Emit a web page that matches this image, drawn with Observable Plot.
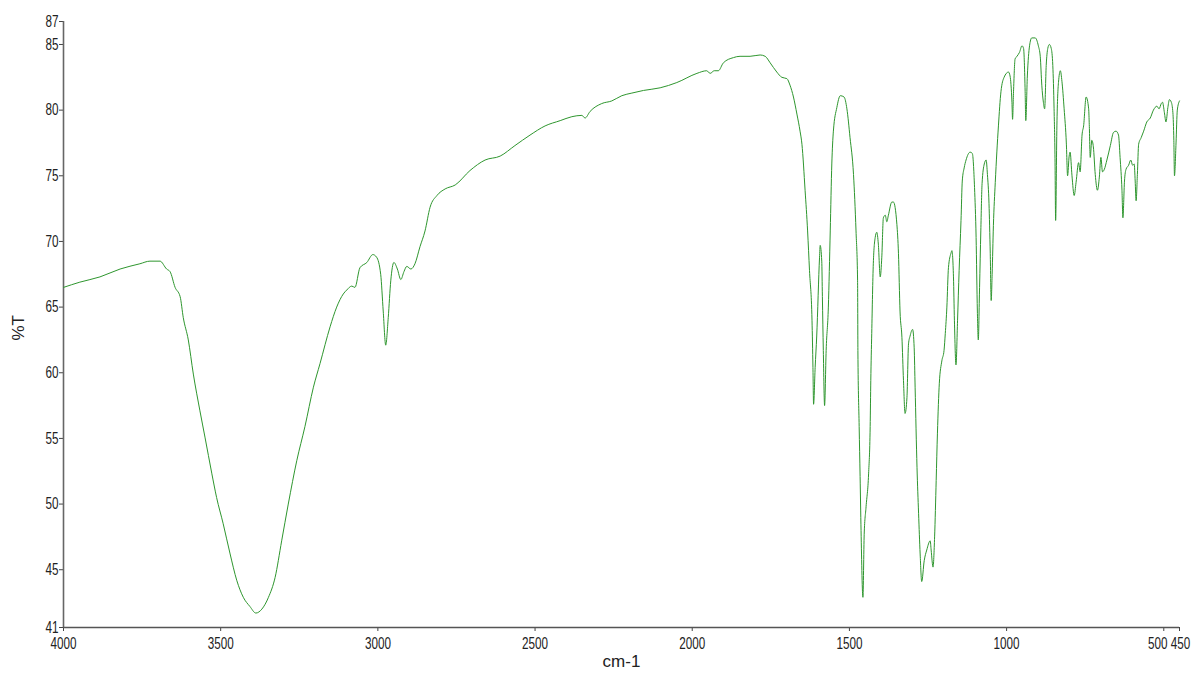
<!DOCTYPE html>
<html>
<head>
<meta charset="utf-8">
<script src="https://cdn.jsdelivr.net/npm/d3@7"></script>
<script src="https://cdn.jsdelivr.net/npm/@observablehq/plot@0.6"></script>
<style>
  html, body { margin: 0; padding: 0; background: #fff; }
</style>
</head>
<body>
<div id="chart"></div>
<script>
// IR spectrum: wavenumber (cm-1) vs transmittance (%T)
const wavenumber = [
  4000,3948,3884,3820,3757,3725,3693,3672,3661,3645,3629,3619,3603,3587,3566,3550,3528,3513,3492,3470,
  3449,3428,3407,3388,3369,3348,3327,3306,3285,3258,3232,3205,3184,3152,3131,3110,3099,3083,3073,3057,
  3035,3016,3004,2991,2983,2975,2967,2959,2949,2938,2927,2917,2908,2895,2882,2866,2850,2834,2812,2786,
  2754,2707,2659,2611,2564,2516,2468,2420,2383,2351,2341,2325,2288,2256,2224,2192,2155,2102,2049,1985,
  1954,1943,1930,1917,1901,1869,1848,1816,1784,1768,1752,1731,1715,1699,1689,1678,1667,1657,1651,1641,
  1633,1627,1619,1616,1614,1609,1604,1595,1593,1588,1586,1583,1579,1574,1567,1561,1556,1551,1540,1529,
  1517,1508,1498,1487,1479,1474,1473,1469,1466,1463,1457,1453,1447,1439,1434,1432,1429,1424,1418,1413,
  1408,1402,1397,1392,1386,1381,1376,1365,1360,1349,1344,1339,1333,1328,1323,1317,1312,1307,1299,1294,
  1291,1285,1280,1275,1270,1262,1254,1243,1240,1234,1229,1224,1220,1214,1206,1199,1195,1190,1185,1177,
  1174,1169,1166,1161,1156,1151,1145,1141,1135,1129,1116,1109,1102,1097,1093,1090,1086,1082,1078,1071,
  1065,1061,1056,1052,1049,1046,1042,1036,1026,1018,1008,994,989,983,981,978,973,967,959,951,
  946,941,939,934,927,920,909,899,893,888,883,879,874,869,864,858,853,849,846,844,
  840,835,829,824,817,810,806,801,798,792,785,779,771,766,760,755,747,739,737,734,
  729,724,718,711,705,700,695,689,681,670,660,652,644,639,633,630,625,620,612,605,
  599,594,591,588,584,580,572,564,554,543,533,522,515,508,504,498,493,487,482,476,
  471,468,466,461,457,450
];
const transmittance = [
  66.5,66.9,67.3,67.9,68.3,68.5,68.5,67.9,67.7,66.5,65.8,64.2,62.5,59.9,57.1,55.1,52.3,50.5,48.5,46.2,
  44.2,42.9,42.2,41.7,42.0,42.9,44.4,47.2,50.0,53.3,55.9,58.9,60.7,63.5,65.0,66.0,66.3,66.6,66.5,68.0,
  68.4,69.0,68.8,67.5,64.7,62.1,64.2,67.0,68.4,67.9,67.1,67.7,68.1,67.9,68.3,69.6,70.8,72.6,73.5,74.0,
  74.3,75.4,76.2,76.5,77.3,78.1,78.8,79.2,79.5,79.6,79.4,79.9,80.5,80.7,81.1,81.3,81.5,81.7,82.1,82.8,
  83.0,82.8,83.0,83.0,83.6,84.0,84.1,84.1,84.2,84.1,83.6,82.9,82.5,82.4,81.9,81.0,79.7,78.4,77.4,73.9,
  70.8,67.8,64.0,60.4,57.6,60.4,62.8,68.8,69.7,68.5,65.8,61.7,57.5,61.7,65.0,70.8,75.9,78.4,80.2,81.1,
  81.0,80.1,77.9,75.1,70.8,67.0,61.7,55.9,52.1,48.0,42.9,47.7,49.8,52.3,55.9,59.4,63.0,68.3,70.3,70.7,
  69.8,67.3,68.8,71.8,72.0,71.5,72.0,73.0,73.0,71.3,69.1,64.7,62.7,59.4,56.9,58.1,62.2,62.8,63.3,61.9,
  58.9,52.8,49.3,46.2,44.1,45.7,46.5,47.2,46.5,45.2,47.5,51.8,55.4,59.2,60.9,61.7,63.0,65.0,68.0,69.1,
  69.3,67.3,64.0,60.6,64.0,67.8,71.6,74.6,75.6,76.2,76.8,76.7,74.1,70.3,64.7,62.5,66.5,70.8,74.4,75.9,
  76.2,75.1,72.9,69.1,65.5,67.5,71.2,74.5,78.8,81.4,82.5,82.9,82.6,80.6,79.3,81.4,83.9,84.1,84.4,84.9,
  84.7,81.4,79.2,82.6,84.9,85.5,85.5,84.9,84.1,81.9,80.6,80.1,83.4,84.7,85.0,84.7,83.4,80.1,76.3,71.6,
  78.8,82.1,83.0,82.2,80.1,77.5,75.0,76.5,76.8,75.0,73.5,74.5,76.0,75.3,78.1,78.8,81.0,80.1,78.9,76.4,
  77.7,77.2,75.1,73.9,74.9,76.4,75.3,75.5,76.2,77.3,78.3,78.4,78.1,76.4,73.9,71.8,74.6,75.5,75.8,76.2,
  75.8,75.9,74.6,73.1,75.1,77.4,77.9,78.4,79.1,79.4,80.0,80.3,80.1,80.5,80.6,79.8,79.1,80.2,80.8,80.6,
  79.8,77.7,75.0,77.5,80.0,80.7
];
const xTickValues = [4000, 3500, 3000, 2500, 2000, 1500, 1000, 500, 450];
const yDomain = [40.6, 86.75];
const yTickValues = [40.6, 45, 50, 55, 60, 65, 70, 75, 80, 85, 86.75];
const xLabel = "cm-1";
const yLabel = "%T";

const data = wavenumber.map((w, i) => ({w, t: transmittance[i]}));

const chart = Plot.plot({
  width: 1191,
  height: 673,
  marginLeft: 63,
  marginRight: 12,
  marginTop: 21,
  marginBottom: 46,
  style: {fontFamily: "'Liberation Sans', Arial, sans-serif", fontSize: "16px", color: "#222", background: "#fff"},
  x: {domain: [4000, 450]},
  y: {domain: yDomain},
  marks: [
    Plot.axisX({ticks: xTickValues, tickSize: 4, tickPadding: 6, tickFormat: d => String(d), label: null, stroke: "#444"}),
    Plot.axisY({ticks: yTickValues, tickSize: 4, tickPadding: 1, tickFormat: d3.format(".0f"), label: null, stroke: "#444"}),
    Plot.ruleX([xTickValues[0]], {stroke: "#666", strokeWidth: 1.6}),
    Plot.ruleY([yDomain[0]], {stroke: "#555", strokeWidth: 1.6}),
    Plot.line(data, {x: "w", y: "t", stroke: "#2e962e", strokeWidth: 1, curve: "monotone-x"}),
    Plot.text([xLabel], {text: d => d, frameAnchor: "bottom", dy: 39, fontSize: 17, fill: "#222"}),
    Plot.text([yLabel], {text: d => d, frameAnchor: "left", dx: -45, dy: 16, rotate: -90, fontSize: 17, fill: "#222"})
  ]
});

document.getElementById("chart").append(chart);

// condensed tick labels, as in the reference
chart.querySelectorAll('g[aria-label*="tick label"] text').forEach(t => {
  const L = t.getComputedTextLength();
  t.setAttribute("textLength", (L * 0.73).toFixed(1));
  t.setAttribute("lengthAdjust", "spacingAndGlyphs");
});
// the two crowded labels at the right end are nudged apart, as in the reference
chart.querySelectorAll('g[aria-label*="x-axis tick label"] text').forEach(t => {
  if (t.textContent === "500") t.setAttribute("dx", "-6");
  if (t.textContent === "450") t.setAttribute("dx", "1");
});
</script>
</body>
</html>
